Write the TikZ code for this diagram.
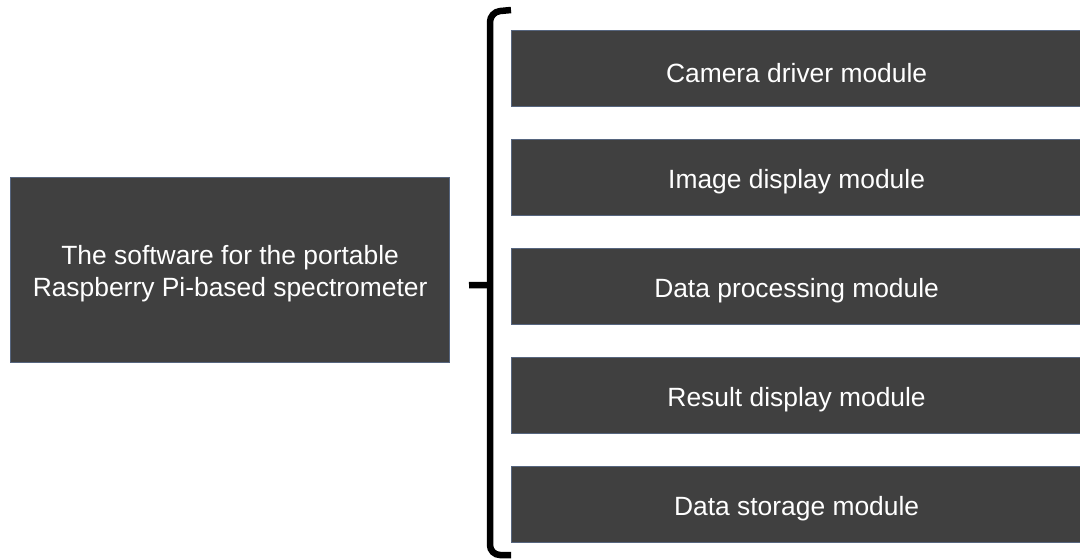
\documentclass[tikz,border=0pt]{standalone}
\usepackage{fontspec}
\setmainfont{Liberation Sans}
\definecolor{boxfill}{HTML}{404040}
\definecolor{boxline}{HTML}{56657E}
\begin{document}
\begin{tikzpicture}[x=1pt,y=-1pt,
  box/.style={draw=boxline, line width=1.2pt, fill=boxfill, inner sep=0pt},
  lbl/.style={text=white, align=center, inner sep=0pt, yshift=-4pt,
    font=\fontsize{26.4}{32}\selectfont},
  brace/.style={line width=6.5pt, line cap=butt}]
\useasboundingbox[fill=white] (0,0) rectangle (1080,558);
\node[box, minimum width=439pt, minimum height=185pt, anchor=north west] (sw) at (10,177) {};
\node[lbl] (swt) at (sw.center) {The software for the portable\\Raspberry Pi-based spectrometer};
\foreach \i/\t in {1/Camera driver module,2/Image display module,3/Data processing module,4/Result display module,5/Data storage module}{
  \node[box, minimum width=572pt, minimum height=76pt, anchor=north west] (m\i) at (511,{30+(\i-1)*109}) {};
  \node[lbl] (m\i t) at ([xshift=-1pt]m\i.center) {\t};
}
\coordinate (btop) at (511,10);
\coordinate (bbot) at (511,555);
\coordinate (bmid) at (490,285);
\draw[brace, rounded corners=10pt] (btop) -- (490,12) -- (490,555) -- (bbot);
\draw[brace] (sw.east -| 469,0) ++(0,15) -- (bmid);
\end{tikzpicture}
\end{document}
